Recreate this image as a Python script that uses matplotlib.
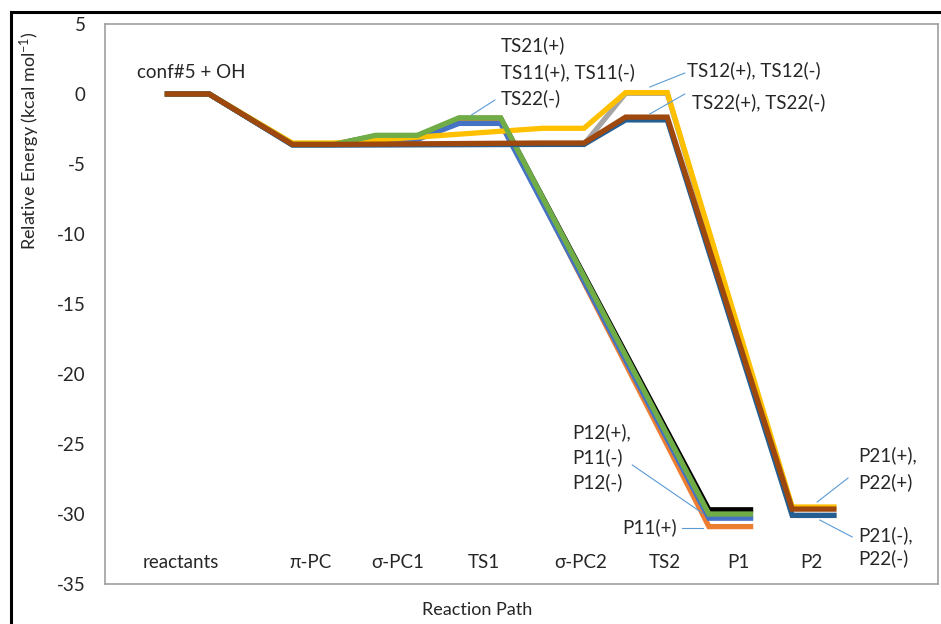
import matplotlib
matplotlib.use("Agg")
import matplotlib.pyplot as plt
from matplotlib.lines import Line2D

plt.rcParams['font.family'] = ['Lato', 'DejaVu Sans']
plt.rcParams['mathtext.default'] = 'regular'
plt.rcParams['axes.unicode_minus'] = False

# reaction states, each drawn as a short flat step
states = ['reactants', 'π-PC', 'σ-PC1', 'TS1', 'σ-PC2', 'TS2', 'P1', 'P2']
state_x = [0, 1.5, 2.5, 3.5, 4.5, 5.5, 6.5, 7.5]
step = 0.5

# energies (kcal/mol), None = state not on that path
black  = [0, -3.6, -3.0,  -1.75, None, None, -29.7, None]
orange = [0, -3.6, -3.1,  -1.85, None, None, -30.9, None]
blue   = [0, -3.6, -3.25, -2.1,  None, None, -30.3, None]
gray   = [0, -3.6, None,  None,  -3.6, 0.05, None, -30.1]
gold   = [0, -3.5, None,  None,  -2.45, 0.1, None, -29.5]
green  = [0, -3.6, -2.95, -1.7,  None, None, -30.0, None]
dkblue = [0, -3.65, None, None,  -3.6, -1.85, None, -30.1]
brown  = [0, -3.6, None,  None,  -3.5, -1.65, None, -29.65]

series = [(black, '#000000'), (orange, '#ED7D31'), (blue, '#4472C4'),
          (gray, '#A5A5A5'), (gold, '#FFC000'), (green, '#70AD47'),
          (dkblue, '#255E91'), (brown, '#9E480E')]

fig = plt.figure(figsize=(9.41, 6.24), dpi=100)
ax = fig.add_axes([105 / 941, 1 - 584 / 624, 833 / 941, 560 / 624])

for vals, col in series:
    xs, ys = [], []
    for x0, v in zip(state_x, vals):
        if v is None:
            continue
        xs += [x0, x0 + step]
        ys += [v, v]
    ax.plot(xs, ys, color=col, lw=3.8, solid_joinstyle='miter')

ax.set_xlim(-0.75, 9.25)
ax.set_ylim(-35, 5)
ax.set_yticks(range(-35, 6, 5))
ax.set_xticks([])
ax.tick_params(axis='y', length=0, pad=14, labelsize=13.5, labelcolor='#262626')
for s in ax.spines.values():
    s.set_color('#A0A0A0')
    s.set_linewidth(1.2)

txt = dict(fontsize=13.5, color='#262626')

# state names sit inside the plot near the bottom
label_x = [0.16, 1.72, 2.76, 3.8, 4.96, 5.97, 6.85, 7.73]
for lx, name in zip(label_x, states):
    ax.text(lx, -33.5, name, ha='center', va='center', **txt)

lead = dict(color='#5B9BD5', lw=0.8)
ax.text(-0.37, 1.5, 'conf#5 + OH', ha='left', va='center', **txt)

ax.text(4.0, 3.5, 'TS21(+)', ha='left', va='center', **txt)
ax.text(4.0, 1.57, 'TS11(+), TS11(-)', ha='left', va='center', **txt)
ax.text(4.0, -0.29, 'TS22(-)', ha='left', va='center', **txt)
ax.plot([3.93, 3.65], [-0.43, -1.5], **lead)

ax.text(6.24, 1.71, 'TS12(+), TS12(-)', ha='left', va='center', **txt)
ax.plot([6.21, 5.79], [1.5, 0.5], **lead)
ax.text(6.30, -0.57, 'TS22(+), TS22(-)', ha='left', va='center', **txt)
ax.plot([6.21, 5.79], [0.0, -1.43], **lead)

ax.text(4.86, -24.14, 'P12(+),', ha='left', va='center', **txt)
ax.text(4.86, -25.93, 'P11(-)', ha='left', va='center', **txt)
ax.text(4.86, -27.71, 'P12(-)', ha='left', va='center', **txt)
ax.plot([5.58, 6.42], [-26.5, -29.93], **lead)
ax.text(5.46, -30.93, 'P11(+)', ha='left', va='center', **txt)
ax.plot([6.18, 6.43], [-31.0, -31.0], **lead)

ax.text(8.29, -25.79, 'P21(+),', ha='left', va='center', **txt)
ax.text(8.29, -27.71, 'P22(+)', ha='left', va='center', **txt)
ax.plot([8.17, 7.80], [-27.43, -29.14], **lead)
ax.text(8.29, -31.5, 'P21(-),', ha='left', va='center', **txt)
ax.text(8.29, -33.14, 'P22(-)', ha='left', va='center', **txt)
ax.plot([7.83, 8.22], [-30.43, -31.64], **lead)

fig.text(30 / 941, 1 - 141 / 624, 'Relative Energy (kcal mol$^{-1}$)',
         rotation=90, ha='center', va='center', fontsize=13, color='#262626')
fig.text(477 / 941, 1 - 610 / 624, 'Reaction Path', ha='center', va='center',
         fontsize=13, color='#262626')

# black frame on the left and top edges of the picture
fig.add_artist(Line2D([11 / 941, 11 / 941], [0, 1 - 12 / 624], color='black',
                      lw=2.2, transform=fig.transFigure))
fig.add_artist(Line2D([11 / 941, 1], [1 - 12 / 624, 1 - 12 / 624], color='black',
                      lw=2.2, transform=fig.transFigure))

plt.savefig('out.png', dpi=100)
